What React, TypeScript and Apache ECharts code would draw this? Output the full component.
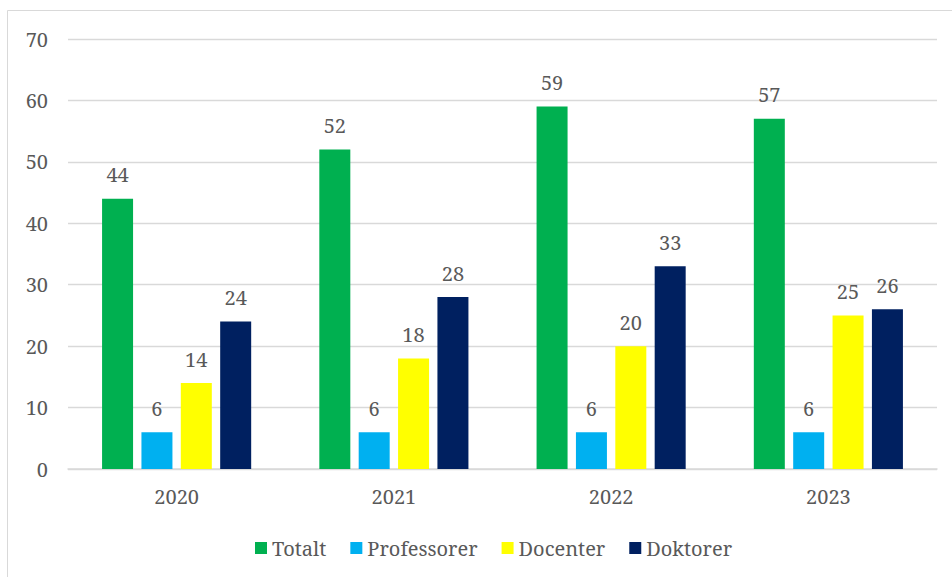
import React, { useEffect, useRef } from "react";
import * as echarts from "echarts";

const categories = ["2020", "2021", "2022", "2023"];
const seriesNames = ["Totalt", "Professorer", "Docenter", "Doktorer"];
const totalt = [44, 52, 59, 57];
const professorer = [6, 6, 6, 6];
const docenter = [14, 18, 20, 25];
const doktorer = [24, 28, 33, 26];
const colors = ["#00B050", "#00B0F0", "#FFFF00", "#002060"];

const FONT = "Noto Serif";
const FS = 20;
const TEXT = "#595959";

export default function App() {
  const ref = useRef<HTMLDivElement>(null);
  useEffect(() => {
    if (!ref.current) return;
    const chart = echarts.init(ref.current, undefined, { renderer: "svg" });
    const data = [totalt, professorer, docenter, doktorer];
    chart.setOption({
      animation: false,
      backgroundColor: "#ffffff",
      textStyle: { fontFamily: FONT },
      graphic: [
        {
          type: "rect",
          shape: { x: 7.5, y: 10.5, width: 1000, height: 700 },
          style: { fill: "none", stroke: "#D9D9D9", lineWidth: 1 },
          silent: true,
          z: -1,
        },
      ],
      grid: { left: 68, right: 15, top: 39, bottom: 108, containLabel: false },
      legend: {
        left: 250,
        top: 533,
        itemWidth: 12,
        itemHeight: 12,
        itemGap: 24,
        icon: "rect",
        textStyle: { fontFamily: FONT, fontSize: FS, color: TEXT },
        data: seriesNames,
      },
      xAxis: {
        type: "category",
        data: categories,
        axisLine: { show: true, lineStyle: { color: "#D9D9D9", width: 1.5 } },
        axisTick: { show: false },
        axisLabel: { fontFamily: FONT, fontSize: FS, color: TEXT, margin: 17 },
      },
      yAxis: {
        type: "value",
        min: 0,
        max: 70,
        interval: 10,
        axisLine: { show: false },
        axisTick: { show: false },
        splitLine: { lineStyle: { color: "#D9D9D9", width: 1.3 } },
        axisLabel: { fontFamily: FONT, fontSize: FS, color: TEXT, margin: 20 },
      },
      series: seriesNames.map((name, i) => ({
        name,
        type: "bar",
        data: data[i],
        barWidth: 31,
        barGap: "27%",
        itemStyle: { color: colors[i] },
        label: {
          show: true,
          position: "top",
          distance: 14,
          fontFamily: FONT,
          fontSize: FS,
          color: TEXT,
        },
      })),
    });
    return () => chart.dispose();
  }, []);
  return (
    <div
      ref={ref}
      style={{ position: "fixed", left: 0, top: 0, width: 952, height: 577 }}
    />
  );
}
